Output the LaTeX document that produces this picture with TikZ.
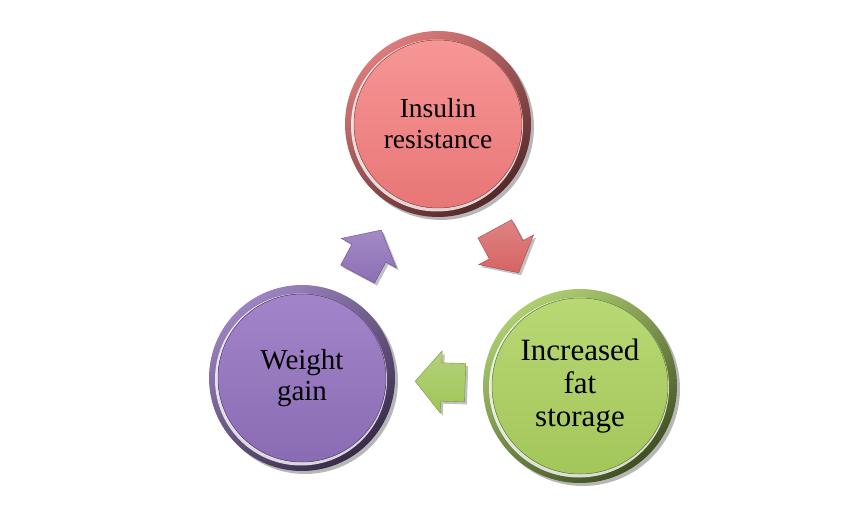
\documentclass[tikz,border=0pt]{standalone}
\usepackage{fontspec}
\setmainfont{Liberation Serif}
\usetikzlibrary{shapes.arrows,shadows,positioning}

\definecolor{insTop}{RGB}{247,150,150}
\definecolor{insBot}{RGB}{232,118,118}
\definecolor{insRim}{RGB}{214,100,100}
\definecolor{fatTop}{RGB}{184,216,116}
\definecolor{fatBot}{RGB}{163,198,90}
\definecolor{fatRim}{RGB}{160,198,88}
\definecolor{wgtTop}{RGB}{162,132,202}
\definecolor{wgtBot}{RGB}{138,108,180}
\definecolor{wgtRim}{RGB}{140,110,182}

\begin{document}
\begin{tikzpicture}[x=1pt, y=-1pt,
  every node/.style={font=\fontsize{27.5}{31}\selectfont},
  disc/.style 2 args={circle, inner sep=0pt, minimum size=#1, align=center,
    top color=#2Rim!85!white, bottom color=#2Rim!40!black, shading angle=35,
    drop shadow={shadow xshift=3pt, shadow yshift=-3pt, opacity=.4, fill=black!70},
    path picture={
      \fill[white, opacity=.8] ([xshift=-1pt, yshift=-1.5pt]path picture bounding box.center) circle[radius=#1/2-7pt];
      \fill[top color=#2Top, bottom color=#2Bot, draw=#2Bot!70!black, line width=.5pt]
        (path picture bounding box.center) circle[radius=#1/2-9pt];}},
  flow/.style={single arrow, minimum height=50pt, inner xsep=0pt, inner ysep=19pt,
    single arrow head extend=12pt, single arrow tip angle=100, anchor=tail,
    sloped, allow upside down, draw=#1!75!black, line width=.4pt,
    top color=#1!80!white, bottom color=#1,
    drop shadow={shadow xshift=2.5pt, shadow yshift=-2.5pt, opacity=.35, fill=black!70}}]
  \useasboundingbox (0,0) rectangle (865,505);

  % the three stages
  \node[disc={186pt}{ins}] (ins) at (438,124) {Insulin\\resistance};
  \node[disc={194pt}{fat}, font=\fontsize{31}{33}\selectfont] (fat) at (580,386) {Increased\\fat\\storage};
  \node[disc={186pt}{wgt}, font=\fontsize{29}{31}\selectfont] (wgt) at (302,378) {Weight\\gain};

  % block arrows of the cycle
  \path (ins) -- node[flow=insRim, pos=.24] (a1) {} (fat);
  \path (fat) -- node[flow=fatRim, pos=.2] (a2) {} (wgt);
  \path (wgt) -- node[flow=wgtRim, pos=.24] (a3) {} (ins);
\end{tikzpicture}
\end{document}
